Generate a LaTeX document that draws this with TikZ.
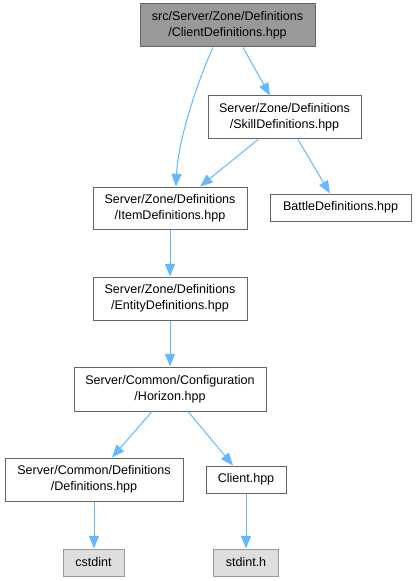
\documentclass[tikz,border=0pt]{standalone}
\usepackage{fontspec}
\setmainfont{Liberation Sans}
\usetikzlibrary{arrows.meta,calc}
\definecolor{edgeblue}{HTML}{63B8FF}
\definecolor{boxline}{HTML}{666666}
\definecolor{rootfill}{HTML}{999999}
\definecolor{leaffill}{HTML}{DEDEDE}
\definecolor{leafline}{HTML}{999999}
\begin{document}
\begin{tikzpicture}[x=0.75pt,y=-0.75pt,
  every node/.style={font=\fontsize{9.4pt}{12pt}\selectfont, align=center, inner sep=0pt},
  filebox/.style={draw=boxline, fill=white, line width=0.75pt},
  rootbox/.style={draw=boxline, fill=rootfill, line width=0.75pt},
  leafbox/.style={draw=leafline, fill=leaffill, line width=0.75pt},
  dep/.style={draw=edgeblue, line width=0.75pt, -{Triangle[length=9.5pt,width=7.5pt]}}]
\useasboundingbox (0,0) rectangle (416,581);
\node[rootbox, minimum width=131.25pt, minimum height=32.25pt] (client) at (227.5,25.5) {src/Server/Zone/Definitions\\/ClientDefinitions.hpp};
\node[filebox, minimum width=114.75pt, minimum height=32.25pt] (skill) at (284.5,117.5) {Server/Zone/Definitions\\/SkillDefinitions.hpp};
\node[filebox, minimum width=115.5pt, minimum height=31.5pt] (item) at (170,208) {Server/Zone/Definitions\\/ItemDefinitions.hpp};
\node[filebox, minimum width=105.75pt, minimum height=20.25pt] (battle) at (340.5,207.5) {BattleDefinitions.hpp};
\node[filebox, minimum width=115.5pt, minimum height=32.25pt] (entity) at (170,298.5) {Server/Zone/Definitions\\/EntityDefinitions.hpp};
\node[filebox, minimum width=144pt, minimum height=33pt] (horizon) at (170,389) {Server/Common/Configuration\\/Horizon.hpp};
\node[filebox, minimum width=133.5pt, minimum height=32.25pt] (defs) at (94,479.5) {Server/Common/Definitions\\/Definitions.hpp};
\node[filebox, minimum width=60pt, minimum height=20.25pt] (clienthpp) at (246,479.5) {Client.hpp};
\node[leafbox, minimum width=45.75pt, minimum height=20.25pt] (cstdint) at (93.5,562.5) {cstdint};
\node[leafbox, minimum width=48.75pt, minimum height=20.25pt] (stdint) at (246,562.5) {stdint.h};

\draw[dep] ($(client.south)+(-14.5,0)$) .. controls (198,80) and (178,140) .. ($(item.north)+(6,0)$);
\draw[dep] ($(client.south)+(15.5,0)$) -- ($(skill.north)+(-14.5,0)$);
\draw[dep] ($(skill.south)+(-26.5,0)$) -- ($(item.north)+(30,0)$);
\draw[dep] ($(skill.south)+(13.5,0)$) -- ($(battle.north)+(-10.5,0)$);
\draw[dep] (item.south) -- (entity.north);
\draw[dep] (entity.south) -- (horizon.north);
\draw[dep] ($(horizon.south)+(-18,0)$) -- ($(defs.north)+(18,0)$);
\draw[dep] ($(horizon.south)+(18,0)$) -- ($(clienthpp.north)+(-13,0)$);
\draw[dep] (defs.south) -- (defs.south |- cstdint.north);
\draw[dep] (clienthpp.south) -- (stdint.north);
\end{tikzpicture}
\end{document}
